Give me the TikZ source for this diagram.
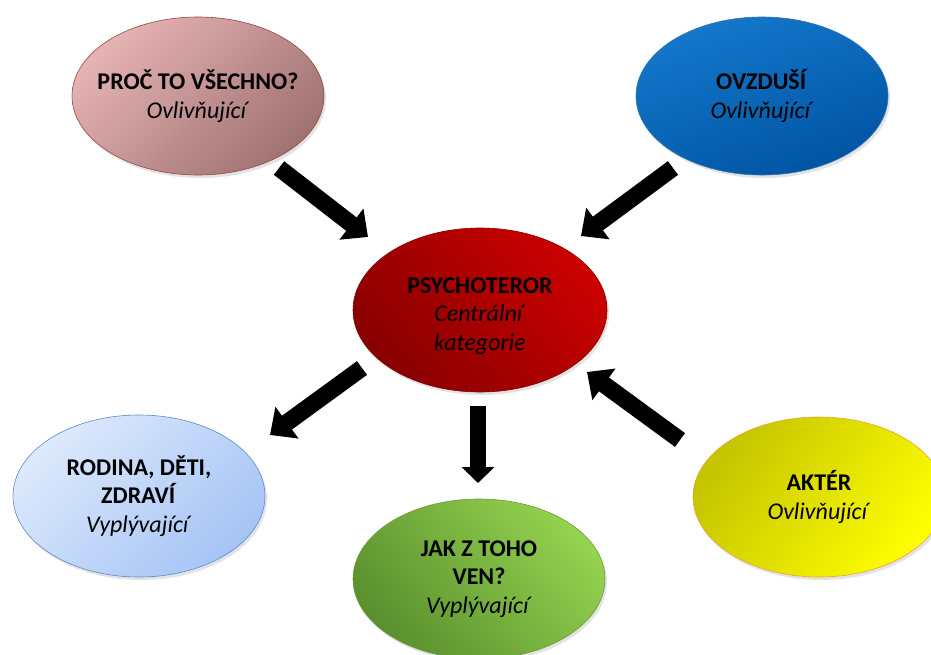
\documentclass[tikz,border=0pt]{standalone}
\usepackage{fontspec}
\setmainfont{Carlito}
\usetikzlibrary{shapes.geometric,arrows.meta,shadows}
\definecolor{tlA}{HTML}{E6B3B3}
\definecolor{tlB}{HTML}{A07272}
\definecolor{tlD}{HTML}{9A4545}
\definecolor{trA}{HTML}{1478CC}
\definecolor{trB}{HTML}{0054A2}
\definecolor{trD}{HTML}{2E75B6}
\definecolor{ceA}{HTML}{CC0000}
\definecolor{ceB}{HTML}{880000}
\definecolor{blA}{HTML}{DDE9FC}
\definecolor{blB}{HTML}{A5C4F5}
\definecolor{blD}{HTML}{5B8BC8}
\definecolor{bcA}{HTML}{94D24F}
\definecolor{bcB}{HTML}{5A902E}
\definecolor{bcD}{HTML}{6E9A3A}
\definecolor{brA}{HTML}{C4C400}
\definecolor{brB}{HTML}{FFFF00}
\definecolor{brD}{HTML}{F0A030}
\begin{document}
\begin{tikzpicture}[x=1pt,y=-1pt,
  bubble/.style={ellipse, inner xsep=-40pt, inner ysep=-25pt, minimum width=252pt, minimum height=160pt,
    align=center, text=black, font=\fontsize{24}{28.5}\selectfont, line width=0.6pt,
    drop shadow={shadow xshift=2pt, shadow yshift=-3pt, opacity=0.22}},
  blockarrow/.style={line width=17pt, black, -{Triangle[length=21pt, width=38pt]}},
  downarrow/.style={line width=16pt, black, -{Triangle[length=16pt, width=32pt]}}]
\useasboundingbox (0,0) rectangle (931,654);
\fill[white] (0,0) rectangle (931,654);

\node[bubble, draw=tlD, top color=tlA, bottom color=tlB, shading angle=45, minimum height=158pt] (tl) at (198,96)
  {\textbf{PROČ TO VŠECHNO?}\\ \textit{Ovlivňující}};
\node[bubble, draw=trD, top color=trA, bottom color=trB, shading angle=20, minimum height=158pt] (tr) at (762,96)
  {\textbf{OVZDUŠÍ}\\ \textit{Ovlivňující}};
\node[bubble, draw=ceB, top color=ceA, bottom color=ceB, shading angle=-50, minimum width=254pt, minimum height=164pt] (c) at (480,310)
  {\rule{0pt}{28pt}\textbf{PSYCHOTEROR}\\ \textit{Centrální}\\ \textit{kategorie}};
\node[bubble, draw=blD, top color=blA, bottom color=blB, shading angle=45, minimum height=162pt] (bl) at (139,496)
  {\textbf{RODINA, DĚTI,}\\ \textbf{ZDRAVÍ}\\ \textit{Vyplývající}};
\node[bubble, draw=bcD, top color=bcA, bottom color=bcB, shading angle=-50] (bc) at (479,579)
  {\textbf{JAK Z TOHO}\\ \textbf{VEN?}\\ \textit{Vyplývající}};
\node[bubble, draw=brD, top color=brA, bottom color=brB, shading angle=55] (br) at (819,497)
  {\textbf{AKTÉR}\\ \textit{Ovlivňující}};

\coordinate (a1s) at (279,168);
\coordinate (a1e) at (368,237);
\coordinate (a2s) at (673,168);
\coordinate (a2e) at (581,236);
\coordinate (a3s) at (362,368);
\coordinate (a3e) at (270,435);
\coordinate (a4s) at (478,406);
\coordinate (a4e) at (478,483);
\coordinate (a5s) at (680,440);
\coordinate (a5e) at (587,372);

\draw[blockarrow] (a1s) -- (a1e);
\draw[blockarrow] (a2s) -- (a2e);
\draw[blockarrow] (a3s) -- (a3e);
\draw[downarrow] (a4s) -- (a4e);
\draw[blockarrow] (a5s) -- (a5e);
\end{tikzpicture}
\end{document}
